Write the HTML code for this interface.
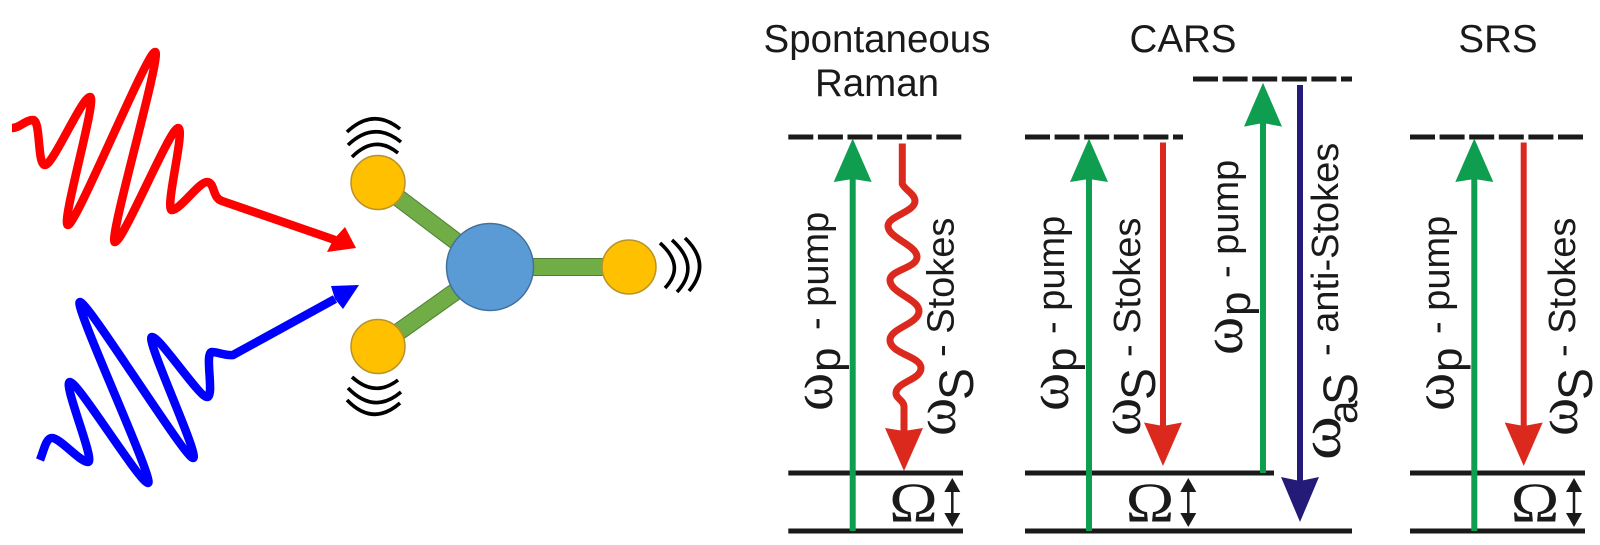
<!DOCTYPE html>
<html>
<head>
<meta charset="utf-8">
<style>
html,body{margin:0;padding:0;background:#fff;width:1600px;height:545px;overflow:hidden}
svg{display:block}
text{font-family:"Liberation Sans",sans-serif;fill:#1a1a1a}
.t{font-size:38.5px;text-anchor:middle}
.r{font-size:38px}
.p{font-size:44px}
.o{font-family:"Liberation Serif",serif;font-size:58px}
.O{font-family:"Liberation Serif",serif;font-size:56px;text-anchor:middle}
.big{font-size:48px}
.lv{stroke:#1a1a1a;stroke-width:5;fill:none}
.da{stroke:#1a1a1a;stroke-width:5;fill:none;stroke-dasharray:25 4.6}
.g{stroke:#0f9d50;stroke-width:6;fill:none}
.gf{fill:#0f9d50}
.rd{stroke:#dc291e;stroke-width:6;fill:none}
.rf{fill:#dc291e}
.arc{stroke:#000;stroke-width:3.6;fill:none}
</style>
</head>
<body>
<svg width="1600" height="545" viewBox="0 0 1600 545" xmlns="http://www.w3.org/2000/svg">
<rect width="1600" height="545" fill="#fff"/>

<!-- red pulse -->
<path d="M12,128 C20,128 25,120 33,120 C41,120 37,165 45,165 C53,165 82,97 90,97 C98,97 60,225 68,225 C76,225 147,52 155,52 C163,52 107,242 115,242 C123,242 170,128 178,128 C186,128 164,210 172,210 C180,210 199,182 207,182 C215,182 212,198 222,201 L335,240" fill="none" stroke="#f00" stroke-width="8.500"/>
<polygon points="356,248 327,252 333,240 345,227" fill="#f00"/>
<!-- blue pulse -->
<path d="M40,460 C44,450 46,438 52,438 C60,438 80,462 88,462 C96,462 62,382 70,382 C78,382 140,483 148,483 C156,483 72,302 80,302 C88,302 185,458 193,458 C201,458 144,337 152,337 C160,337 199,397 207,397 C215,397 204,352 212,352 C218,352 226,356 233,355 L335,299" fill="none" stroke="#00f" stroke-width="8.500"/>
<polygon points="359,285 331,286 335,299 343,309" fill="#00f"/>

<!-- molecule -->
<g fill="none">
<line x1="378" y1="182.500" x2="490" y2="267" stroke="#507e32" stroke-width="18"/>
<line x1="378" y1="182.500" x2="490" y2="267" stroke="#70ad47" stroke-width="16"/>
<line x1="378" y1="346.500" x2="490" y2="267" stroke="#507e32" stroke-width="18"/>
<line x1="378" y1="346.500" x2="490" y2="267" stroke="#70ad47" stroke-width="16"/>
<line x1="490" y1="267" x2="629" y2="267" stroke="#507e32" stroke-width="18"/>
<line x1="490" y1="267" x2="629" y2="267" stroke="#70ad47" stroke-width="16"/>
</g>
<circle cx="490" cy="267" r="43.500" fill="#5b9bd5" stroke="#41719c" stroke-width="1.500"/>
<g fill="#ffc000" stroke="#b8922a" stroke-width="1.500">
<circle cx="378" cy="182.500" r="27"/>
<circle cx="378" cy="346.500" r="27"/>
<circle cx="629" cy="267" r="27"/>
</g>
<g class="arc">
<path d="M352,157 Q375,134 398,153"/>
<path d="M348,145 Q374,120 401,142"/>
<path d="M347,132 Q373,107 400,129"/>
<path d="M352,377 Q375,398 398,380"/>
<path d="M348,388 Q374,415 401,392"/>
<path d="M347,400 Q373,427 400,403"/>
<path d="M660,243 Q686,266 665,288"/>
<path d="M672,240 Q701,266 677,292"/>
<path d="M685,238 Q712,264 689,291"/>
</g>

<!-- titles -->
<text class="t" x="877" y="52">Spontaneous</text>
<text class="t" x="877" y="96">Raman</text>
<text class="t" x="1183" y="52">CARS</text>
<text class="t" x="1498" y="52">SRS</text>

<!-- Column 1 -->
<line class="da" x1="788.300" y1="137" x2="963" y2="137"/>
<line class="lv" x1="788.300" y1="473" x2="963" y2="473"/>
<line class="lv" x1="788.300" y1="531" x2="963" y2="531"/>
<line class="g" x1="852.700" y1="531" x2="852.700" y2="178"/>
<polygon class="gf" points="852.700,138.500 871.700,182 852.700,179 833.700,182"/>
<path d="M902.300,143.500 L902.300,184 C905,190 915,194 915,201 C915,212 888,216 888,226 C888,238 917,245 917,257 C917,268 890,270 890,280 C890,293 919,299 919,311 C919,324 890,328 890,340 C890,354 921,356 921,368 C921,380 896,382 896,393 C896,399 904,400 904,407 L904,432" fill="none" stroke="#dc291e" stroke-width="7"/>
<polygon class="rf" points="904,471 885,428 904,431 923,428"/>
<text class="O" transform="translate(913.500,521.500) scale(1.170,1)">Ω</text>
<g transform="translate(952.300,0)"><line x1="0" y1="485" x2="0" y2="520" stroke="#1a1a1a" stroke-width="2.500"/><polygon points="0,478 8,492 -8,492" fill="#1a1a1a"/><polygon points="0,527 8,513 -8,513" fill="#1a1a1a"/></g>
<text class="o" transform="translate(832,411) rotate(-90)">ω</text>
<text class="p" transform="translate(840,372) rotate(-90)">p</text>
<text class="r" transform="translate(828,330) rotate(-90)" xml:space="preserve">- pump</text>
<text class="o" transform="translate(955,436) rotate(-90)">ω</text>
<text class="big" transform="translate(973,400) rotate(-90)">S</text>
<text class="r" transform="translate(953.300,357) rotate(-90)" xml:space="preserve">- Stokes</text>

<!-- Column 2 -->
<line class="da" x1="1025" y1="137" x2="1183" y2="137"/>
<line class="da" x1="1193" y1="79" x2="1352" y2="79"/>
<line class="lv" x1="1025" y1="473" x2="1274" y2="473"/>
<line class="lv" x1="1025" y1="531" x2="1352" y2="531"/>
<line class="g" x1="1089" y1="531" x2="1089" y2="178"/>
<polygon class="gf" points="1089,138.500 1108,182 1089,179 1070,182"/>
<line class="rd" x1="1163" y1="142.500" x2="1163" y2="426"/>
<polygon class="rf" points="1163,466 1144,422.500 1163,426 1182,422.500"/>
<line class="g" x1="1263" y1="473" x2="1263" y2="122"/>
<polygon class="gf" points="1263,82.700 1282,126.600 1263,123 1244,126.600"/>
<line x1="1300" y1="85" x2="1300" y2="482" stroke="#241a78" stroke-width="6"/>
<polygon points="1300,522 1281,477 1300,481 1319,477" fill="#241a78"/>
<text class="O" transform="translate(1150,521.500) scale(1.170,1)">Ω</text>
<g transform="translate(1188.300,0)"><line x1="0" y1="485" x2="0" y2="520" stroke="#1a1a1a" stroke-width="2.500"/><polygon points="0,478 8,492 -8,492" fill="#1a1a1a"/><polygon points="0,527 8,513 -8,513" fill="#1a1a1a"/></g>
<text class="o" transform="translate(1068,411) rotate(-90)">ω</text>
<text class="p" transform="translate(1076,372) rotate(-90)">p</text>
<text class="r" transform="translate(1064,334) rotate(-90)" xml:space="preserve">- pump</text>
<text class="o" transform="translate(1140,436) rotate(-90)">ω</text>
<text class="big" transform="translate(1155,400) rotate(-90)">S</text>
<text class="r" transform="translate(1140,357) rotate(-90)" xml:space="preserve">- Stokes</text>
<text class="o" transform="translate(1242,355) rotate(-90)">ω</text>
<text class="p" transform="translate(1250,316) rotate(-90)">p</text>
<text class="r" transform="translate(1238,278) rotate(-90)" xml:space="preserve">- pump</text>
<text class="o" transform="translate(1340,460) rotate(-90) scale(1.150,1)">ω</text>
<text class="r" style="font-size:42px" transform="translate(1357,424) rotate(-90)">a</text>
<text class="big" transform="translate(1357,405) rotate(-90)">S</text>
<text class="r" transform="translate(1338,356) rotate(-90)" xml:space="preserve">- anti-Stokes</text>

<!-- Column 3 -->
<line class="da" x1="1410" y1="137" x2="1585" y2="137"/>
<line class="lv" x1="1410" y1="473" x2="1585" y2="473"/>
<line class="lv" x1="1410" y1="531" x2="1585" y2="531"/>
<line class="g" x1="1474.300" y1="531" x2="1474.300" y2="178"/>
<polygon class="gf" points="1474.300,138.500 1493.300,182 1474.300,179 1455.300,182"/>
<line class="rd" x1="1523.700" y1="142.500" x2="1523.700" y2="426"/>
<polygon class="rf" points="1523.700,466 1504.700,422.500 1523.700,426 1542.700,422.500"/>
<text class="O" transform="translate(1535,521.500) scale(1.170,1)">Ω</text>
<g transform="translate(1574,0)"><line x1="0" y1="485" x2="0" y2="520" stroke="#1a1a1a" stroke-width="2.500"/><polygon points="0,478 8,492 -8,492" fill="#1a1a1a"/><polygon points="0,527 8,513 -8,513" fill="#1a1a1a"/></g>
<text class="o" transform="translate(1453.500,411) rotate(-90)">ω</text>
<text class="p" transform="translate(1461.500,372) rotate(-90)">p</text>
<text class="r" transform="translate(1449,334) rotate(-90)" xml:space="preserve">- pump</text>
<text class="o" transform="translate(1577,436) rotate(-90)">ω</text>
<text class="big" transform="translate(1592,400) rotate(-90)">S</text>
<text class="r" transform="translate(1575,357) rotate(-90)" xml:space="preserve">- Stokes</text>
</svg>
</body>
</html>
